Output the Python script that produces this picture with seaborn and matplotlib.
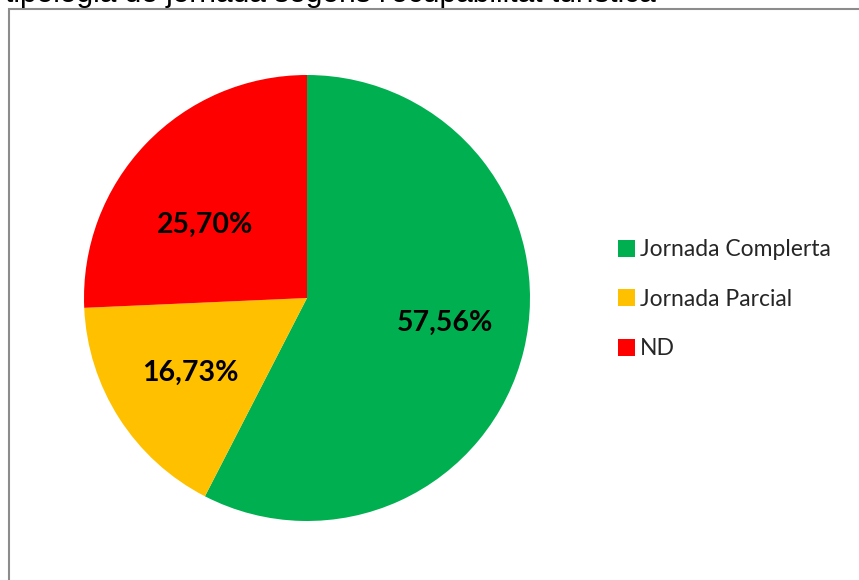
import matplotlib
matplotlib.use("Agg")
import numpy as np
import matplotlib.pyplot as plt
import seaborn as sns
from matplotlib.patches import Rectangle

# data
categories = ["Jornada Complerta", "Jornada Parcial", "ND"]
values = [57.56, 16.73, 25.70]
pct_labels = ["57,56%", "16,73%", "25,70%"]
colors = ["#00B050", "#FFC000", "#FF0000"]
title = "tipologia de jornada segons l'ocupabilitat turística"

# label placement inside the slices (angle in degrees, distance from centre)
label_angle = [-10.3, -147.3, 144.4]
label_dist = [0.63, 0.62, 0.56]

sns.set_theme(style="white")
plt.rcParams["font.family"] = ["Lato", "DejaVu Sans"]

W, H = 859, 580
fig = plt.figure(figsize=(W / 100, H / 100), dpi=100)
fig.patch.set_facecolor("white")

# chart frame (cut at the right and bottom)
fig.add_artist(Rectangle((8.5 / W, -0.1), 1.0, 1.1 - 9.5 / H, transform=fig.transFigure,
                         fill=False, edgecolor="#8c8c8c", linewidth=1.5))

# title, mostly cropped above the picture
fig.text(5 / W, 1 - 2 / H, title, ha="left", va="baseline", fontsize=21.5,
         family=["Liberation Sans", "DejaVu Sans"], color="black")

# pie axes: centre (307, 298), radius 223 px
cx, cy, r = 307, 298, 223
ax = fig.add_axes([(cx - r) / W, (H - cy - r) / H, 2 * r / W, 2 * r / H])
wedges, texts = ax.pie(values, colors=colors, startangle=90, counterclock=False,
                       radius=1, wedgeprops=dict(linewidth=0))
for lab, ang, d in zip(pct_labels, label_angle, label_dist):
    a = np.deg2rad(ang)
    ax.text(d * np.cos(a), d * np.sin(a), lab, ha="center", va="center",
            fontsize=20.5, fontweight="bold", color="black")
ax.set_xlim(-1, 1)
ax.set_ylim(-1, 1)
ax.set_aspect("equal")
ax.axis("off")

leg = fig.legend(wedges, categories, loc="upper left", bbox_to_anchor=(609 / W, 1 - 230 / H),
                 frameon=False, fontsize=16.5, handlelength=0.75, handleheight=0.75,
                 handletextpad=0.2, labelspacing=1.25, borderaxespad=0)

fig.savefig("out.png", dpi=100, facecolor="white")
